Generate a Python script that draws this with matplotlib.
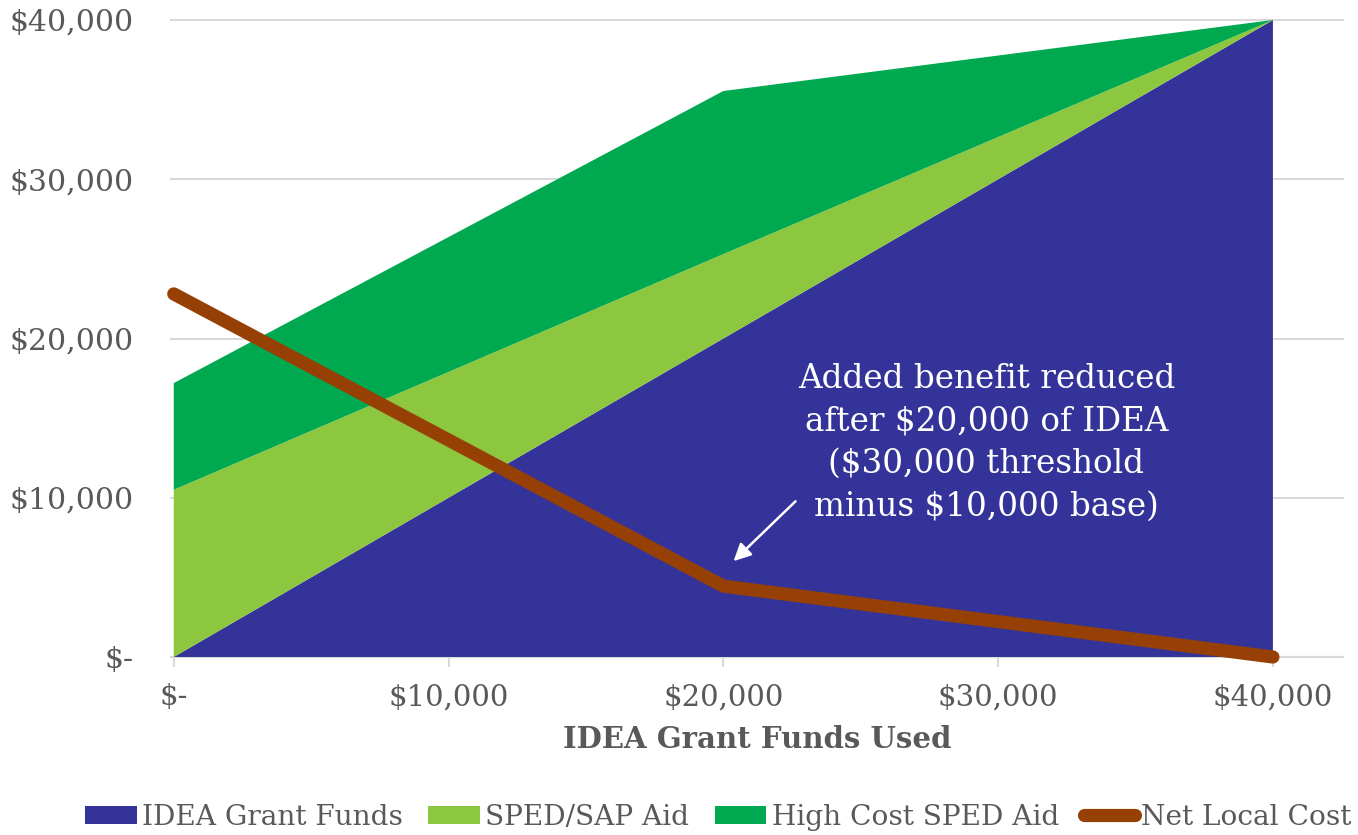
import matplotlib
matplotlib.use("Agg")
import matplotlib.pyplot as plt
from matplotlib.patches import Patch
from matplotlib.lines import Line2D

# Data
idea_used = [0, 20000, 40000]
idea_grant = [0, 20000, 40000]
sped_sap_aid = [10500, 5300, 0]
high_cost_aid = [6700, 10240, 0]
net_local_cost = [22800, 4450, 0]

x_ticks = [0, 10000, 20000, 30000, 40000]
y_ticks = [0, 10000, 20000, 30000, 40000]
series_names = ["IDEA Grant Funds", "SPED/SAP Aid", "High Cost SPED Aid", "Net Local Cost"]
colors = ["#343399", "#8DC63F", "#00A94F", "#974006"]

def money(v):
    return "$-" if v == 0 else "${:,.0f}".format(v)

plt.rcParams['font.family'] = ['DejaVu Serif']
txt = "#595959"
grid_c = "#D9D9D9"

fig = plt.figure(figsize=(13.58, 8.35), dpi=100)
ax = fig.add_axes([171/1358, 1 - 657/835, (1343 - 171)/1358, (657 - 20)/835])

ax.stackplot(idea_used, idea_grant, sped_sap_aid, high_cost_aid,
             colors=colors[:3], linewidth=0, zorder=2)
ax.plot(idea_used, net_local_cost, color=colors[3], lw=9.5,
        solid_capstyle='round', zorder=3, clip_on=False)

ax.set_xlim(-100, 42550)
ax.set_ylim(0, 40000)
ax.set_xticks(x_ticks)
ax.set_yticks(y_ticks)
ax.set_xticklabels([money(v) for v in x_ticks])
ax.set_yticklabels([money(v) for v in y_ticks])

ax.grid(axis='y', color=grid_c, lw=1.5, zorder=1)
ax.set_axisbelow(True)
for s in ['left', 'right', 'top']:
    ax.spines[s].set_visible(False)
ax.spines['bottom'].set_color(grid_c)
ax.spines['bottom'].set_linewidth(1.5)
ax.spines['bottom'].set_zorder(1)
ax.tick_params(axis='y', length=0, labelsize=21.5, labelcolor=txt, pad=27)
ax.tick_params(axis='x', length=7, width=1.5, color=grid_c, labelsize=21,
               labelcolor=txt, pad=12)
for gl in ax.get_ygridlines():
    gl.set_clip_on(False)

ax.set_xlabel("IDEA Grant Funds Used", fontsize=21, fontweight='bold',
              color=txt, labelpad=10)

ax.text(29570, 13440, "Added benefit reduced\nafter $20,000 of IDEA\n($30,000 threshold\nminus $10,000 base)",
        color='white', fontsize=23.5, ha='center', va='center', linespacing=1.42, zorder=4)
ax.annotate("", xy=(20300, 5900), xytext=(22700, 9900),
            arrowprops=dict(arrowstyle='-|>', color='white', lw=1.8,
                            mutation_scale=26), zorder=4)

handles = [Patch(facecolor=colors[0]), Patch(facecolor=colors[1]),
           Patch(facecolor=colors[2]),
           Line2D([], [], color=colors[3], lw=9.5, solid_capstyle='round')]
leg = fig.legend(handles, series_names, loc='center', bbox_to_anchor=(0.529, 0.021),
                 ncol=4, frameon=False, handlelength=1.83, handleheight=0.65,
                 handletextpad=0.2, columnspacing=0.9,
                 prop={'family': 'DejaVu Serif', 'size': 20.2})
for t in leg.get_texts():
    t.set_color(txt)

fig.savefig("out.png", dpi=100)
